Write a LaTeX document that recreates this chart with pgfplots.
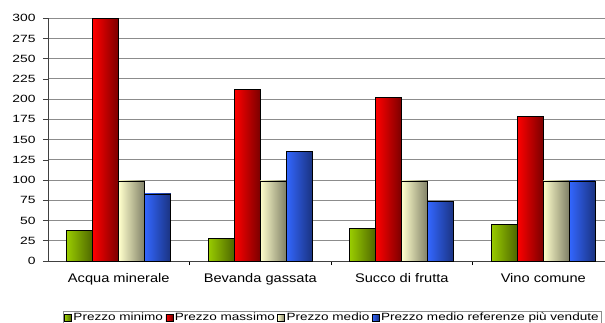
\documentclass[border=0pt]{standalone}
\usepackage{pgfplots}
\pgfplotsset{compat=1.18}
\usepackage{fontspec}
\setmainfont{Liberation Sans}
\newfontfamily\tickfont[FakeStretch=1.32]{Liberation Sans}
\newfontfamily\catfont[FakeStretch=1.17]{Liberation Sans}
\newfontfamily\legfont[FakeStretch=1.29]{Liberation Sans}

\definecolor{gLight}{HTML}{99CC00}
\definecolor{gDark}{HTML}{4D6600}
\definecolor{rLight}{HTML}{FF0000}
\definecolor{rDark}{HTML}{7A0000}
\definecolor{yLight}{HTML}{FFFFCC}
\definecolor{yDark}{HTML}{7F7F66}
\definecolor{bLight}{HTML}{3366FF}
\definecolor{bDark}{HTML}{1A3380}
\definecolor{gridgray}{HTML}{8C8C8C}

% each bar gets its own horizontal gradient, so every bar is its own plot
\pgfplotsset{
  minimo/.style={bar shift=-39pt, left color=gLight, middle color=gLight!80!gDark, right color=gDark},
  massimo/.style={bar shift=-13pt, left color=rLight, middle color=rLight!85!rDark, right color=rDark},
  medio/.style={bar shift=13pt, left color=yLight, middle color=yLight!85!yDark, right color=yDark},
  referenze/.style={bar shift=39pt, left color=bLight, middle color=bLight!85!bDark, right color=bDark},
}

\begin{document}
\begin{tikzpicture}
\path[use as bounding box, clip] (-48pt,-61pt) rectangle (557pt,261pt);
\begin{axis}[
  at={(0pt,0pt)}, anchor=south west,
  scale only axis, width=557pt, height=242.7pt,
  ybar, bar width=26pt,
  xmin=-0.5, xmax=3.436,
  ymin=0, ymax=300,
  axis x line=bottom, axis y line=left,
  axis line style={-, draw=black!75, line width=0.8pt},
  ytick={0,25,...,300},
  ymajorgrids, grid style={gridgray, line width=1pt},
  xtick={0,1,2,3},
  xticklabels={Acqua minerale, Bevanda gassata, Succo di frutta, Vino comune},
  minor xtick={0.5,1.5,2.5},
  major x tick style={draw=none},
  minor x tick style={draw=black, line width=0.6pt},
  minor tick length=4pt,
  major tick length=5pt,
  tick align=outside,
  y tick style={draw=black!75, line width=0.6pt},
  /pgf/number format/assume math mode=true,
  yticklabel style={font=\tickfont\fontsize{10.5}{12}\selectfont, xshift=-4pt},
  xticklabel style={font=\catfont\fontsize{12.5}{14}\selectfont, yshift=-4pt},
  legend columns=-1,
  legend style={at={(axis description cs:0.0269,-0.2073)}, anchor=north west,
    draw=black!45, line width=0.6pt, inner xsep=1pt, inner ysep=0.3pt,
    font=\legfont\fontsize{10.5}{12}\selectfont,
    /tikz/every even column/.append style={column sep=1pt},
    nodes={inner xsep=1.5pt, inner ysep=1pt}},
  legend image code/.code={\draw[#1] (0pt,-3.5pt) rectangle (7pt,3.5pt);},
  every axis plot/.append style={draw=black, line width=0.7pt},
]
% Prezzo minimo
\addplot[minimo] coordinates {(0,38)};
\addplot[minimo, forget plot] coordinates {(1,28)};
\addplot[minimo, forget plot] coordinates {(2,40)};
\addplot[minimo, forget plot] coordinates {(3,45)};
% Prezzo massimo
\addplot[massimo] coordinates {(0,300)};
\addplot[massimo, forget plot] coordinates {(1,212)};
\addplot[massimo, forget plot] coordinates {(2,202)};
\addplot[massimo, forget plot] coordinates {(3,179)};
% Prezzo medio
\addplot[medio] coordinates {(0,99)};
\addplot[medio, forget plot] coordinates {(1,99)};
\addplot[medio, forget plot] coordinates {(2,99)};
\addplot[medio, forget plot] coordinates {(3,99)};
% Prezzo medio referenze piu' vendute
\addplot[referenze] coordinates {(0,83)};
\addplot[referenze, forget plot] coordinates {(1,135)};
\addplot[referenze, forget plot] coordinates {(2,74)};
\addplot[referenze, forget plot] coordinates {(3,99)};
\legend{Prezzo minimo, Prezzo massimo, Prezzo medio, Prezzo medio referenze più vendute}
\end{axis}
\end{tikzpicture}
\end{document}
